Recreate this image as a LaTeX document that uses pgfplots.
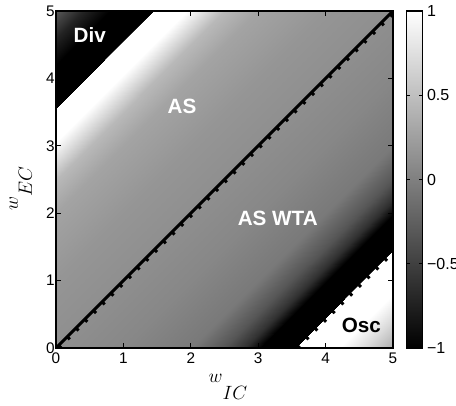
\documentclass[border=0pt]{standalone}
\usepackage{fontspec}
\setmainfont{Liberation Sans}
\usepackage{pgfplots}
\pgfplotsset{compat=1.18}
\usepackage{pgfplotstable}
\pgfplotstableread{
x y c
0 5 -0.3
0 5 -0.3
0 4.6 -0.72
0.4 5 -0.72
0 4.2 -1
0.8 5 -1
0 3.56 -1
1.44 5 -1
0 3.55 1
1.45 5 1
0 3.05 1
1.95 5 1
0 2.5 0.45
2.5 5 0.45
0 2.0 0.28
3.0 5 0.28
0 1.0 0.17
4.0 5 0.17
0 0 0.12
5 5 0.12
1.0 0 0.06
5 4.0 0.06
2.0 0 -0.05
5 3.0 -0.05
2.5 0 -0.33
5 2.5 -0.33
2.8 0 -0.62
5 2.2 -0.62
3.03 0 -1
5 1.97 -1
3.55 0 -1
5 1.45 -1
3.56 0 1
5 1.44 1
4.2 0 1
5 0.8 1
4.6 0 0.7
5 0.4 0.7
5 0 0.35
5 0 0.35
}\fielddata
\begin{document}
\begin{tikzpicture}
\begin{axis}[
  at={(0,0)}, anchor=south west,
  scale only axis, width=252.75pt, height=252.75pt,
  xmin=0, xmax=5, ymin=0, ymax=5,
  xtick={0,1,2,3,4,5}, ytick={0,1,2,3,4,5},
  xtick pos=both, ytick pos=both,
  xticklabel pos=lower, yticklabel pos=left,
  tick align=inside, major tick length=4pt,
  axis line style={line width=1pt},
  every tick/.style={black, line width=0.8pt},
  tick label style={font=\fontsize{11.5}{13}\selectfont},
  yticklabel style={xshift=2.5pt},
  /pgf/number format/assume math mode=true,
  colormap={mygray}{gray(0cm)=(0); gray(1cm)=(1)},
  point meta min=-1, point meta max=1,
  colorbar,
  colorbar style={
    at={(parent axis.north east)}, anchor=north west, xshift=1.5pt,
    scale only axis, width=12pt, height=252.75pt,
    ytick={-1,-0.5,0,0.5,1},
    yticklabels={−1,−0.5,0,0.5,1},
    yticklabel pos=right,
    tick align=inside, major tick length=2.5pt,
    axis line style={line width=0.8pt},
    every tick/.style={black, line width=0.6pt},
    tick label style={font=\fontsize{12}{14}\selectfont},
  },
  xlabel={\(w\)\raisebox{-12.75pt}{\(IC\)}},
  ylabel={\(w\)\raisebox{-10.5pt}{\(EC\)}},
  xlabel style={font=\fontsize{14}{16}\selectfont, at={(axis description cs:0.51,-0.103)}, anchor=base},
  ylabel style={font=\fontsize{14}{16}\selectfont, at={(axis description cs:-0.113,0.472)}, anchor=base},
  axis on top,
]
\addplot[surf, shader=interp, mesh/cols=2, point meta=explicit] table[x=x, y=y, meta=c] {\fielddata};
\addplot[black, line width=2.25pt] coordinates {(0,0) (5,5)};
\addplot[black, line width=2.25pt, dash pattern=on 2.25pt off 7pt] coordinates {(0.045,0) (5,4.955)};
\addplot[black, line width=2.25pt, dash pattern=on 2.25pt off 7pt] coordinates {(3.586,0) (5,1.414)};
\node[font=\bfseries\fontsize{15.5}{18}\selectfont, text=white] at (axis cs:0.5,4.64) {Div};
\node[font=\bfseries\fontsize{15.5}{18}\selectfont, text=white] at (axis cs:1.87,3.59) {AS};
\node[font=\bfseries\fontsize{15.5}{18}\selectfont, text=white] at (axis cs:3.29,1.93) {AS WTA};
\node[font=\bfseries\fontsize{15.5}{18}\selectfont, text=black] at (axis cs:4.53,0.34) {Osc};
\end{axis}
\pgfresetboundingbox
\path[use as bounding box] (-42pt,-42.75pt) rectangle (300pt,261pt);
\end{tikzpicture}
\end{document}
